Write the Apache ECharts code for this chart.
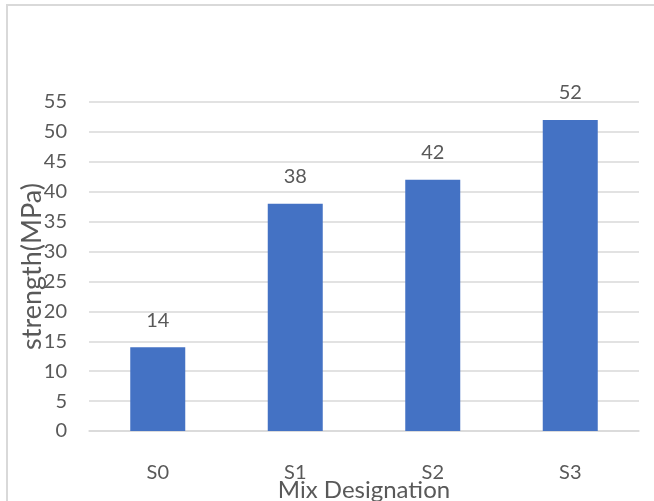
<!DOCTYPE html>
<html>
<head>
<meta charset="utf-8">
<script src="https://cdn.jsdelivr.net/npm/echarts@6/dist/echarts.min.js"></script>
<style>
  html, body { margin: 0; padding: 0; background: #fff; }
  #chart { width: 654px; height: 501px; }
</style>
</head>
<body>
<div id="chart"></div>
<script>
// Compressive strength per mix designation
const mixes = ['S0', 'S1', 'S2', 'S3'];
const strength = [14, 38, 42, 52];
const yTicks = { min: 0, max: 55, interval: 5 };

const FONT = 'Lato, "Noto Sans", sans-serif';
const TEXT = '#595959';
const GRID = '#d9d9d9';

const chart = echarts.init(document.getElementById('chart'), null, { renderer: 'canvas' });
chart.setOption({
  animation: false,
  backgroundColor: '#fff',
  graphic: [{
    type: 'rect',
    shape: { x: 7, y: 5, width: 700, height: 600 },
    style: { fill: 'none', stroke: GRID, lineWidth: 2 },
    silent: true
  }],
  grid: { left: 89, right: 15, top: 102, bottom: 70, containLabel: false, outerBoundsMode: 'none' },
  xAxis: {
    type: 'category',
    data: mixes,
    name: 'Mix Designation',
    nameLocation: 'middle',
    nameGap: 47,
    nameMoveOverlap: false,
    nameTextStyle: { color: TEXT, fontFamily: FONT, fontSize: 24 },
    axisLine: { lineStyle: { color: GRID, width: 1.5 } },
    axisTick: { show: false },
    axisLabel: { color: TEXT, fontFamily: FONT, fontSize: 20, margin: 32 }
  },
  yAxis: {
    type: 'value',
    min: yTicks.min,
    max: yTicks.max,
    interval: yTicks.interval,
    name: 'strength(MPa)',
    nameLocation: 'middle',
    nameGap: 43,
    nameMoveOverlap: false,
    nameRotate: 90,
    nameTextStyle: { color: TEXT, fontFamily: FONT, fontSize: 27 },
    axisLine: { show: false },
    axisTick: { show: false },
    axisLabel: { color: TEXT, fontFamily: FONT, fontSize: 20, margin: 22 },
    splitLine: { lineStyle: { color: GRID, width: 1.5 } }
  },
  series: [{
    type: 'bar',
    data: strength,
    barWidth: '40%',
    itemStyle: { color: '#4472C4' },
    label: {
      show: true,
      position: 'top',
      distance: 17,
      color: TEXT,
      fontFamily: FONT,
      fontSize: 20
    }
  }]
});
</script>
</body>
</html>
